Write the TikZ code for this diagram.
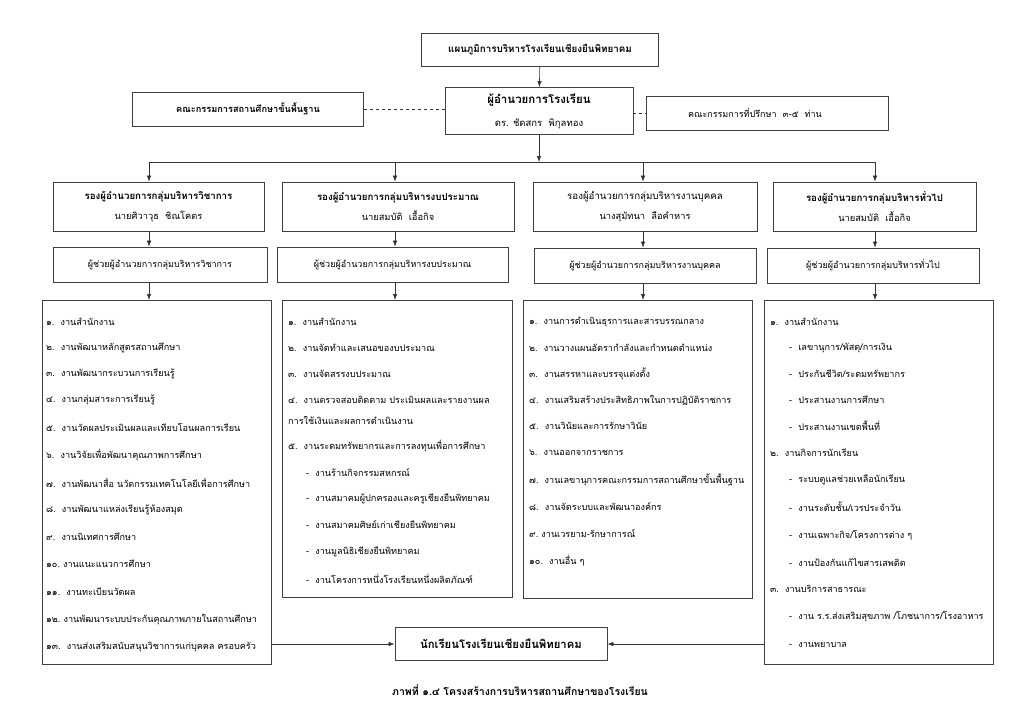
\documentclass[tikz,border=0pt]{standalone}
\usepackage{fontspec}
\newfontfamily\thai[Script=Thai]{Loma}
\usetikzlibrary{positioning,arrows.meta}
\tikzset{box/.style={draw=black!75,line width=0.8pt,inner sep=2pt,align=center,
      font=\thai\fontsize{9}{20}\selectfont},
    headbox/.style={box,font=\thai\bfseries\fontsize{9.8}{20}\selectfont},
    listbox/.style={draw=black!75,line width=0.8pt,anchor=north west,inner sep=0pt},
    item/.style={anchor=west,inner sep=0pt,font=\thai\fontsize{9.1}{11}\selectfont},
    link/.style={draw=black!80,line width=0.6pt,-{Latex[length=6pt,width=4.5pt]}},
    dash link/.style={draw=black!80,line width=0.9pt,dashed}}
\begin{document}
\begin{tikzpicture}[x=1pt,y=-1pt]
  \useasboundingbox (0,0) rectangle (1024,724);

  % Top of the chart
  \node[headbox,minimum width=237,minimum height=33] (title) at (540,50)
    {แผนภูมิการบริหารโรงเรียนเชียงยืนพิทยาคม};
  \node[box,minimum width=188,minimum height=47,font=\thai\fontsize{9.5}{23}\selectfont] (dir) at (539,111)
    {{\bfseries\fontsize{11.5}{23}\selectfont ผู้อำนวยการโรงเรียน}\\ดร. ชัดสกร\ \ พิกุลทอง};
  \node[headbox,minimum width=231,minimum height=34,font=\thai\bfseries\fontsize{9.2}{20}\selectfont] (board) at (248,109)
    {คณะกรรมการสถานศึกษาขั้นพื้นฐาน};
  \node[box,minimum width=242,minimum height=34,font=\thai\fontsize{9}{10}\selectfont] (advisor) at (767,113)
    {คณะกรรมการที่ปรึกษา\ \ ๓-๕\ \ ท่าน\hspace*{24pt}};

  \path[link] (title) -- (dir);
  \path[dash link] (board) -- (board -| dir.west);
  \path[dash link] (dir.east |- advisor) -- (advisor);

  % Deputy directors
  \foreach \pos/\name/\bw/\ft/\role/\who in
      {{(158.5,206.5)/b1/211/\bfseries/รองผู้อำนวยการกลุ่มบริหารวิชาการ/นายศิวาวุธ\ \ ชิณโคตร},
       {(398,206.5)/b2/232/\bfseries/รองผู้อำนวยการกลุ่มบริหารงบประมาณ/นายสมบัติ\ \ เอื้อกิจ},
       {(645,206.5)/b3/224/\mdseries/รองผู้อำนวยการกลุ่มบริหารงานบุคคล/นางสุมัทนา\ \ ลือคำหาร},
       {(874.5,206.5)/b4/203/\bfseries/รองผู้อำนวยการกลุ่มบริหารทั่วไป/นายสมบัติ\ \ เอื้อกิจ}}
    \node[box,minimum width=\bw,minimum height=49] (\name) at \pos
      {{\ft\fontsize{9.7}{20}\selectfont\role}\\\fontsize{9.3}{20}\selectfont\who};

  % Assistants
  \foreach \pos/\name/\bw/\role in
      {{(160,264.5)/a1/214/ผู้ช่วยผู้อำนวยการกลุ่มบริหารวิชาการ},
       {(392.5,264.5)/a2/231/ผู้ช่วยผู้อำนวยการกลุ่มบริหารงบประมาณ},
       {(645,265.5)/a3/222/ผู้ช่วยผู้อำนวยการกลุ่มบริหารงานบุคคล},
       {(873,265.5)/a4/212/ผู้ช่วยผู้อำนวยการกลุ่มบริหารทั่วไป}}
    \node[box,minimum width=\bw,minimum height=35] (\name) at \pos {\role};

  % Work lists
  \node[listbox,minimum width=229,minimum height=364] (l1) at (42,300) {};
  \node[listbox,minimum width=230,minimum height=297] (l2) at (282,300) {};
  \node[listbox,minimum width=229,minimum height=298] (l3) at (523,300) {};
  \node[listbox,minimum width=229,minimum height=364] (l4) at (764,300) {};

  \node[box,minimum width=212,minimum height=33,font=\thai\bfseries\fontsize{11.3}{13}\selectfont] (pupil) at (501,644)
    {นักเรียนโรงเรียนเชียงยืนพิทยาคม};

  % Connect the boxes
  \coordinate (bus) at (540,162);
  \foreach \name/\x in {c1/149,c2/395,c3/643,c4/875}
    \coordinate (\name) at (\x,162);
  \path[link] (dir) -- (dir |- bus);
  \path[draw,draw=black!80,line width=0.6pt] (c1) -- (c4);
  \foreach \col/\up/\mid/\down in {c1/b1/a1/l1,c2/b2/a2/l2,c3/b3/a3/l3,c4/b4/a4/l4}{
    \path[link] (\col) -- (\col |- \up.north);
    \path[link] (\col |- \up.south) -- (\col |- \mid.north);
    \path[link] (\col |- \mid.south) -- (\col |- \down.north);
  }
  \path[link] (l1.east |- pupil) -- (pupil);
  \path[link] (l4.west |- pupil) -- (pupil);

  % Items of each list
  \foreach \x/\y/\t in {46/322/{๑.\ \ งานสำนักงาน}, 46/348/{๒.\ \ งานพัฒนาหลักสูตรสถานศึกษา},
      46/374/{๓.\ \ งานพัฒนากระบวนการเรียนรู้}, 46/400/{๔.\ \ งานกลุ่มสาระการเรียนรู้},
      46/427/{๕.\ \ งานวัดผลประเมินผลและเทียบโอนผลการเรียน}, 46/455/{๖.\ \ งานวิจัยเพื่อพัฒนาคุณภาพการศึกษา},
      46/483/{๗.\ \ งานพัฒนาสื่อ นวัตกรรมเทคโนโลยีเพื่อการศึกษา}, 46/510/{๘.\ \ งานพัฒนาแหล่งเรียนรู้ห้องสมุด},
      46/537/{๙.\ \ งานนิเทศการศึกษา}, 46/564/{๑๐.\ งานแนะแนวการศึกษา},
      46/592/{๑๑.\ \ งานทะเบียนวัดผล}, 46/620/{๑๒.\ งานพัฒนาระบบประกันคุณภาพภายในสถานศึกษา},
      46/647/{๑๓.\ \ งานส่งเสริมสนับสนุนวิชาการแก่บุคคล ครอบครัว}}
    \node[item] (i1-\y) at (\x,\y) {\t};

  \foreach \x/\y/\t in {288/322/{๑.\ \ งานสำนักงาน}, 288/348/{๒.\ \ งานจัดทำและเสนอของบประมาณ},
      288/374/{๓.\ \ งานจัดสรรงบประมาณ}, 288/400/{๔.\ \ งานตรวจสอบติดตาม ประเมินผลและรายงานผล},
      288/420/{การใช้เงินและผลการดำเนินงาน}, 288/446/{๕.\ \ งานระดมทรัพยากรและการลงทุนเพื่อการศึกษา},
      306/473/{-\ \ งานร้านกิจกรรมสหกรณ์}, 306/499/{-\ \ งานสมาคมผู้ปกครองและครูเชียงยืนพิทยาคม},
      306/525/{-\ \ งานสมาคมศิษย์เก่าเชียงยืนพิทยาคม}, 306/552/{-\ \ งานมูลนิธิเชียงยืนพิทยาคม},
      306/579/{-\ \ งานโครงการหนึ่งโรงเรียนหนึ่งผลิตภัณฑ์}}
    \node[item] (i2-\y) at (\x,\y) {\t};

  \foreach \x/\y/\t in {529/322/{๑.\ \ งานการดำเนินธุรการและสารบรรณกลาง}, 529/348/{๒.\ \ งานวางแผนอัตรากำลังและกำหนดตำแหน่ง},
      529/374/{๓.\ \ งานสรรหาและบรรจุแต่งตั้ง}, 529/400/{๔.\ \ งานเสริมสร้างประสิทธิภาพในการปฏิบัติราชการ},
      529/426/{๕.\ \ งานวินัยและการรักษาวินัย}, 529/453/{๖.\ \ งานออกจากราชการ},
      529/480/{๗.\ \ งานเลขานุการคณะกรรมการสถานศึกษาขั้นพื้นฐาน}, 529/507/{๘.\ \ งานจัดระบบและพัฒนาองค์กร},
      529/534/{๙.\ งานเวรยาม-รักษาการณ์}, 529/561/{๑๐.\ \ งานอื่น ๆ}}
    \node[item] (i3-\y) at (\x,\y) {\t};

  \foreach \x/\y/\t in {770/322/{๑.\ \ งานสำนักงาน}, 789/348/{-\ \ เลขานุการ/พัสดุ/การเงิน},
      789/374/{-\ \ ประกันชีวิต/ระดมทรัพยากร}, 789/400/{-\ \ ประสานงานการศึกษา},
      789/426/{-\ \ ประสานงานเขตพื้นที่}, 770/453/{๒.\ \ งานกิจการนักเรียน},
      789/480/{-\ \ ระบบดูแลช่วยเหลือนักเรียน}, 789/507/{-\ \ งานระดับชั้น/เวรประจำวัน},
      789/535/{-\ \ งานเฉพาะกิจ/โครงการต่าง ๆ}, 789/562/{-\ \ งานป้องกันแก้ไขสารเสพติด},
      770/589/{๓.\ \ งานบริการสาธารณะ}, 789/617/{-\ \ งาน ร.ร.ส่งเสริมสุขภาพ /โภชนาการ/โรงอาหาร},
      789/645/{-\ \ งานพยาบาล}}
    \node[item] (i4-\y) at (\x,\y) {\t};

  % Caption
  \node[font=\thai\bfseries\fontsize{10.5}{12}\selectfont] (caption) at (520,690)
    {ภาพที่ ๑.๔ โครงสร้างการบริหารสถานศึกษาของโรงเรียน};

\end{tikzpicture}
\end{document}
